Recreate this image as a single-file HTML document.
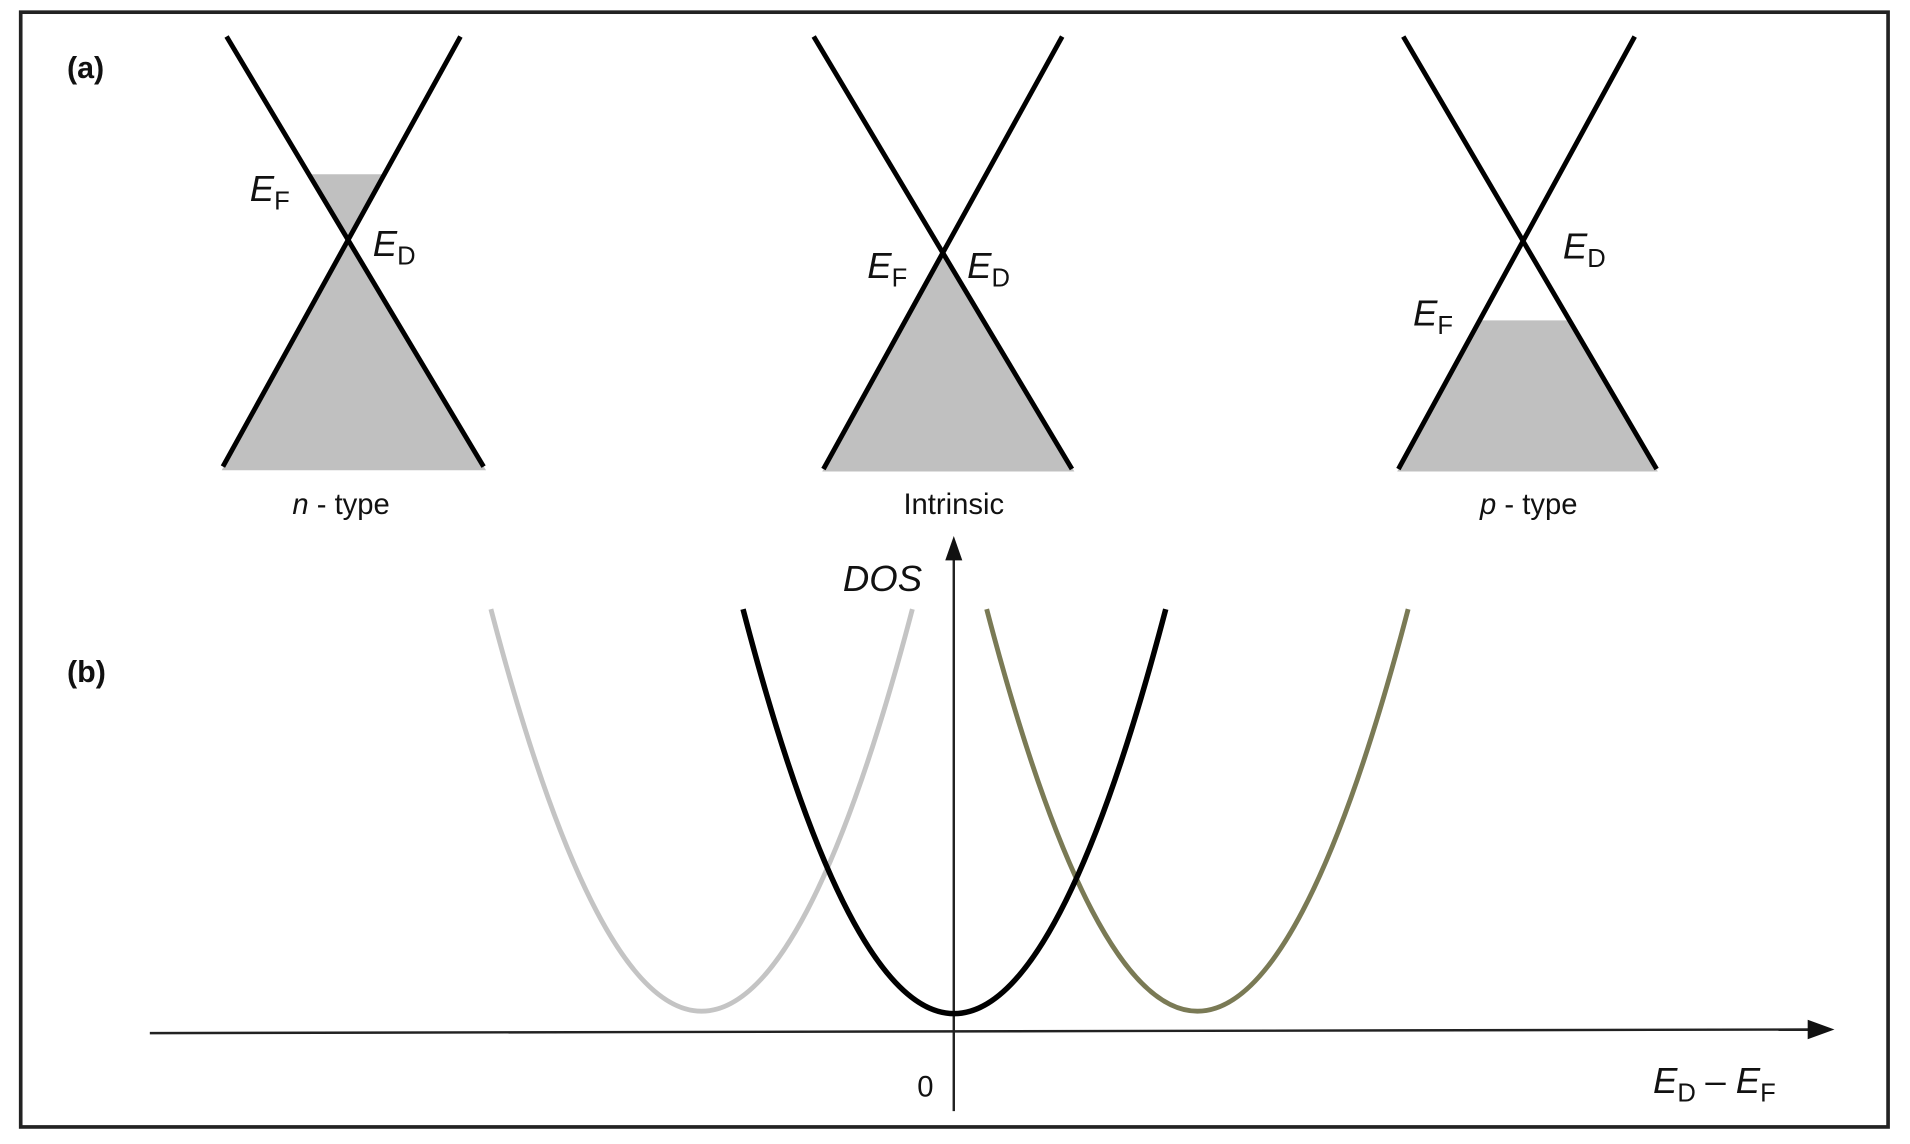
<!DOCTYPE html>
<html><head><meta charset="utf-8"><style>
html,body{margin:0;padding:0;background:#fff;}
svg{display:block;}
text{font-family:"Liberation Sans",sans-serif;fill:#111;}
</style></head><body>
<svg width="1910" height="1144" viewBox="0 0 1568 939" preserveAspectRatio="none" xmlns="http://www.w3.org/2000/svg">
<rect x="17" y="10" width="1533" height="915" fill="#fff" stroke="#222" stroke-width="3"/>
<text x="55" y="64" font-size="25" font-weight="bold">(a)</text>
<text x="55" y="560" font-size="25" font-weight="bold">(b)</text>

<!-- n-type -->
<polygon points="286,197 182,386 399,386" fill="#c0c0c0"/>
<polygon points="253,143 316,143 286,197" fill="#c0c0c0"/>
<line x1="186" y1="30" x2="397" y2="383" stroke="#000" stroke-width="4"/>
<line x1="378" y1="30" x2="183" y2="383" stroke="#000" stroke-width="4"/>
<text x="205" y="165" font-size="30" font-style="italic">E</text><text x="225" y="172" font-size="21">F</text>
<text x="306" y="210" font-size="30" font-style="italic">E</text><text x="326" y="217" font-size="21">D</text>
<text x="280" y="422" font-size="24" text-anchor="middle"><tspan font-style="italic">n</tspan> - type</text>

<!-- intrinsic -->
<polygon points="774,207.5 675,387 882,387" fill="#c0c0c0"/>
<line x1="668" y1="30" x2="880" y2="385" stroke="#000" stroke-width="4"/>
<line x1="872" y1="30" x2="676" y2="385" stroke="#000" stroke-width="4"/>
<text x="712" y="228" font-size="30" font-style="italic">E</text><text x="732" y="235" font-size="21">F</text>
<text x="794" y="228" font-size="30" font-style="italic">E</text><text x="814" y="235" font-size="21">D</text>
<text x="783" y="422" font-size="24" text-anchor="middle">Intrinsic</text>

<!-- p-type -->
<polygon points="1215,263 1288,263 1361,387 1147,387" fill="#c0c0c0"/>
<line x1="1152" y1="30" x2="1360" y2="385" stroke="#000" stroke-width="4"/>
<line x1="1342" y1="30" x2="1148" y2="385" stroke="#000" stroke-width="4"/>
<text x="1283" y="212" font-size="30" font-style="italic">E</text><text x="1303" y="219" font-size="21">D</text>
<text x="1160" y="267" font-size="30" font-style="italic">E</text><text x="1180" y="274" font-size="21">F</text>
<text x="1255" y="422" font-size="24" text-anchor="middle"><tspan font-style="italic">p</tspan> - type</text>

<!-- axes -->
<line x1="783" y1="912" x2="783" y2="458" stroke="#222" stroke-width="2"/>
<polygon points="783,440 776,460 790,460" fill="#111"/>
<line x1="123" y1="848" x2="1488" y2="845" stroke="#222" stroke-width="2"/>
<polygon points="1506,845 1484,837 1484,853" fill="#111"/>
<text x="692" y="485" font-size="30" font-style="italic">DOS</text>
<text x="753" y="900" font-size="24">0</text>
<text x="1357" y="897" font-size="30" font-style="italic">E</text><text x="1377" y="904" font-size="21">D</text>
<text x="1400" y="897" font-size="30">–</text>
<text x="1425" y="897" font-size="30" font-style="italic">E</text><text x="1445" y="904" font-size="21">F</text>

<!-- parabolas -->
<path d="M403,500 Q576,1160 749,500" fill="none" stroke="#c4c4c4" stroke-width="4"/>
<path d="M810,500 Q983,1160 1156,500" fill="none" stroke="#7a7a55" stroke-width="4"/>
<path d="M610,500 Q783,1164 957,500" fill="none" stroke="#000" stroke-width="4.5"/>
</svg>
</body></html>
